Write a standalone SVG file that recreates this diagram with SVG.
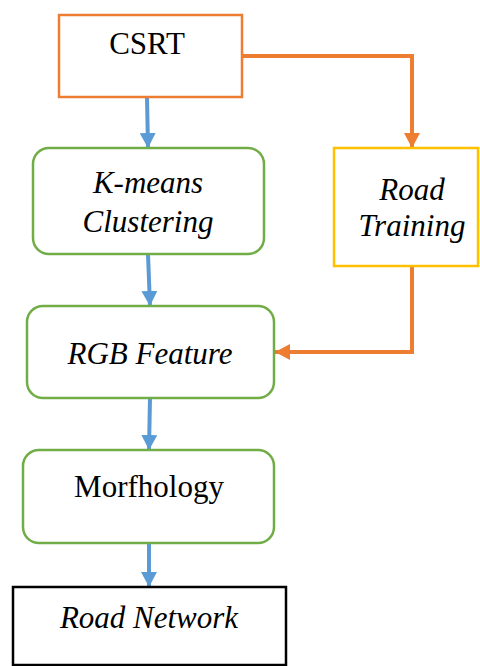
<svg xmlns="http://www.w3.org/2000/svg" width="480" height="666" viewBox="0 0 480 666">
  <defs>
    <marker id="arrowBlue" markerUnits="userSpaceOnUse" markerWidth="16" markerHeight="16" viewBox="0 0 16 16" refX="15" refY="8" orient="auto">
      <path d="M0,0 L15,8 L0,16 Z" fill="#5B9BD5"/>
    </marker>
    <marker id="arrowOrange" markerUnits="userSpaceOnUse" markerWidth="16" markerHeight="16" viewBox="0 0 16 16" refX="15" refY="8" orient="auto">
      <path d="M0,0 L15,8 L0,16 Z" fill="#ED7D31"/>
    </marker>
  </defs>
  <rect width="480" height="666" fill="#fff"/>

  <g id="connectors" fill="none" stroke-width="4">
    <g stroke="#5B9BD5" marker-end="url(#arrowBlue)">
      <line x1="147" y1="97" x2="148" y2="148"/>
      <line x1="148" y1="254" x2="150" y2="306"/>
      <line x1="150" y1="398" x2="149" y2="450"/>
      <line x1="149" y1="543" x2="149" y2="587"/>
    </g>
    <g stroke="#ED7D31" marker-end="url(#arrowOrange)">
      <polyline points="242,56 412,56 412,148"/>
      <polyline points="412,266 412,352 275,352"/>
    </g>
  </g>

  <!-- labels: Times-metric serif, 31px, centred -->
  <g font-family="Liberation Serif, Times New Roman, serif" font-size="31" fill="#000" text-anchor="middle">
    <g id="csrt">
      <rect x="59" y="15" width="183" height="82" fill="#fff" stroke="#ED7D31" stroke-width="2.5"/>
      <text x="147" y="54">CSRT</text>
    </g>

    <g id="kmeans" font-style="italic">
      <rect x="33" y="148" width="231" height="106" rx="16" fill="#fff" stroke="#70AD47" stroke-width="2.5"/>
      <text x="148" y="193">K-means</text>
      <text x="148" y="232">Clustering</text>
    </g>

    <g id="road-training" font-style="italic">
      <rect x="334" y="148" width="144" height="118" fill="#fff" stroke="#FFC000" stroke-width="2.5"/>
      <text x="412" y="200">Road</text>
      <text x="412" y="236">Training</text>
    </g>

    <g id="rgb-feature" font-style="italic">
      <rect x="27" y="306" width="247" height="92" rx="16" fill="#fff" stroke="#70AD47" stroke-width="2.5"/>
      <text x="150" y="364">RGB Feature</text>
    </g>

    <g id="morfhology">
      <rect x="23" y="450" width="251" height="93" rx="16" fill="#fff" stroke="#70AD47" stroke-width="2.5"/>
      <text x="149" y="497">Morfhology</text>
    </g>

    <g id="road-network" font-style="italic">
      <rect x="13" y="587" width="273" height="78" fill="#fff" stroke="#000" stroke-width="2.5"/>
      <text x="149" y="628">Road Network</text>
    </g>
  </g>
</svg>
